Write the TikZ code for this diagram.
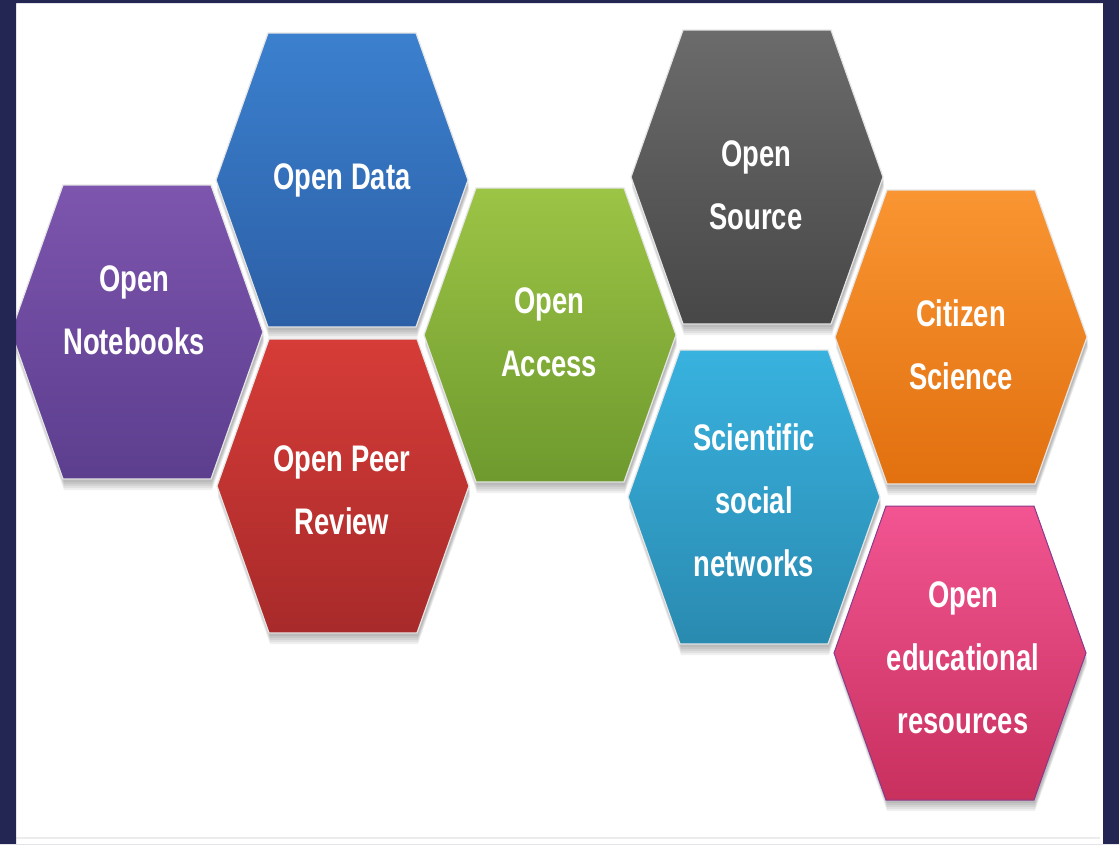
\documentclass[tikz,border=0pt]{standalone}
\usepackage{fontspec}
\newfontfamily\hexfont{Liberation Sans}[FakeStretch=0.74]
\definecolor{navy}{HTML}{232552}
\definecolor{purpT}{HTML}{7D55AE}\definecolor{purpB}{HTML}{5C3E8E}
\definecolor{blueT}{HTML}{3B80CE}\definecolor{blueB}{HTML}{2C5FA6}
\definecolor{redT}{HTML}{D63C38}\definecolor{redB}{HTML}{A82A2A}
\definecolor{greenT}{HTML}{9CC445}\definecolor{greenB}{HTML}{6E9A2E}
\definecolor{grayT}{HTML}{6B6B6B}\definecolor{grayB}{HTML}{474747}
\definecolor{cyanT}{HTML}{38B2DF}\definecolor{cyanB}{HTML}{2A8AB0}
\definecolor{orT}{HTML}{F99532}\definecolor{orB}{HTML}{E2700F}
\definecolor{pinkT}{HTML}{F25592}\definecolor{pinkB}{HTML}{C8305E}
\definecolor{pinkE}{HTML}{8A3A8A}
\newcommand\hexpath[2]{(#1-126,#2) -- (#1-74,#2-147) -- (#1+74,#2-147) -- (#1+126,#2) -- (#1+74,#2+147) -- (#1-74,#2+147) -- cycle}
\newcommand\hexshadow[2]{%
  \foreach \d in {3,5,7,9,11}{\fill[black,opacity=0.06] \hexpath{#1+1}{#2+\d};}}
\tikzset{
  lbl/.style={font=\hexfont\bfseries\fontsize{37}{63}\selectfont, text=white, align=center, inner sep=0pt},
  hexrim/.style={draw=white!80!gray, line width=1.2pt}
}
\begin{document}
\begin{tikzpicture}[x=1pt,y=-1pt]
\useasboundingbox (0,0) rectangle (1119,844);
\fill[white] (0,0) rectangle (1119,844);
\draw[gray!15, line width=1.5pt] (16,838) -- (1100,838);
% shadows
\hexshadow{137}{332}
\hexshadow{342}{180}
\hexshadow{343}{486}
\hexshadow{550}{335}
\hexshadow{757}{177}
\hexshadow{754}{497}
\hexshadow{961}{337}
\hexshadow{960}{653}
% hexagons
\shade[top color=purpT, bottom color=purpB, hexrim] \hexpath{137}{332};
\shade[top color=blueT, bottom color=blueB, hexrim] \hexpath{342}{180};
\shade[top color=redT, bottom color=redB, hexrim] \hexpath{343}{486};
\shade[top color=greenT, bottom color=greenB, hexrim] \hexpath{550}{335};
\shade[top color=grayT, bottom color=grayB, hexrim] \hexpath{757}{177};
\shade[top color=cyanT, bottom color=cyanB, hexrim] \hexpath{754}{497};
\shade[top color=orT, bottom color=orB, hexrim] \hexpath{961}{337};
\shade[top color=pinkT, bottom color=pinkB, draw=pinkE, line width=1pt] \hexpath{960}{653};
% labels
\node[lbl] (nb) at (134,310) {Open\\Notebooks};
\node[lbl] (od) at (342,180) {Open Data};
\node[lbl] (pr) at (342,490) {Open Peer\\Review};
\node[lbl] (oa) at (549,332) {Open\\Access};
\node[lbl] (os) at (756,185) {Open\\Source};
\node[lbl] (cs) at (961,345) {Citizen\\Science};
\node[lbl] (sn) at (754,500) {Scientific\\social\\networks};
\node[lbl] (oer) at (963,658) {Open\\educational\\resources};
% frame on top
\fill[navy, even odd rule] (0,0) rectangle (1119,844) (16,3) rectangle (1103,844);
\end{tikzpicture}
\end{document}
